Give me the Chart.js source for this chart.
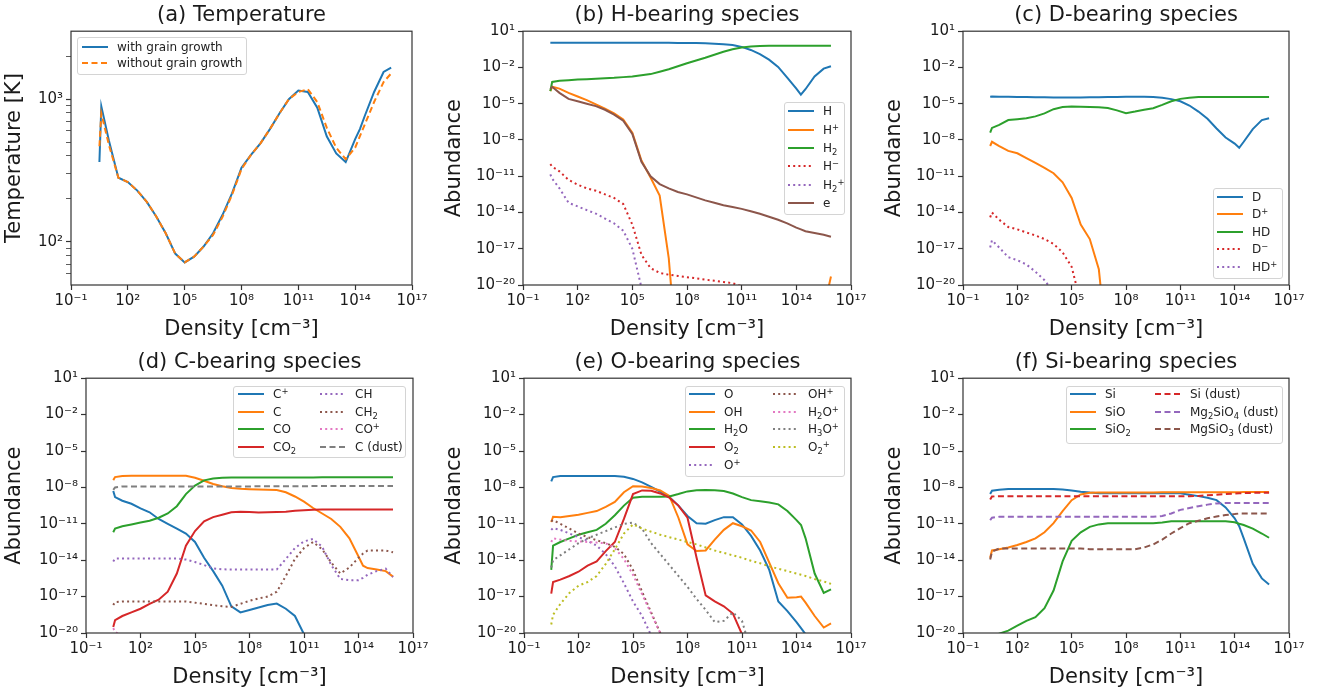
<!DOCTYPE html>
<html>
<head>
<meta charset="utf-8">
<script src="https://cdn.jsdelivr.net/npm/chart.js@4.4.1/dist/chart.umd.min.js"></script>
<style>
  body { margin: 0; background: #fff; font-family: 'DejaVu Sans', sans-serif; }
  #page { position: relative; width: 1324px; height: 695px; overflow: hidden; }
  canvas { position: absolute; }
  .legend { position: absolute; border: 1px solid #d4d4d4; border-radius: 3px; background: rgba(255,255,255,0.85); box-sizing: border-box; }
  .entry { position: absolute; display: flex; align-items: center; font-size: 12px; color: #222; white-space: nowrap; }
  .entry svg { display: block; margin-right: 9px; }
  sup { font-size: 70%; vertical-align: 0.5em; line-height: 0; }
  sub { font-size: 70%; vertical-align: -0.3em; line-height: 0; }
</style>
</head>
<body>
<div id="page">
  <canvas id="panelA" width="441" height="345" style="left:0;top:0"></canvas>
  <canvas id="panelB" width="441" height="345" style="left:441px;top:0"></canvas>
  <canvas id="panelC" width="442" height="345" style="left:882px;top:0"></canvas>
  <canvas id="panelD" width="441" height="355" style="left:0;top:340px"></canvas>
  <canvas id="panelE" width="441" height="355" style="left:441px;top:340px"></canvas>
  <canvas id="panelF" width="442" height="355" style="left:882px;top:340px"></canvas>
</div>
<script>
// density grid, log10 of n [cm^-3]
const logDensity = [0.5, 0.6, 1, 1.5, 2, 2.5, 3, 3.5, 4, 4.5,
                    5, 5.5, 6, 6.5, 7, 7.5, 8, 8.5, 9, 9.5,
                    10, 10.5, 11, 11.5, 12, 12.5, 13, 13.5, 14, 14.25,
                    14.5, 15, 15.5, 15.9];

const xTickValues = [1e-1, 1e2, 1e5, 1e8, 1e11, 1e14, 1e17];
const xTickLabels = ['10⁻¹', '10²', '10⁵', '10⁸', '10¹¹', '10¹⁴', '10¹⁷'];
const yTickValues = [1e-20, 1e-17, 1e-14, 1e-11, 1e-8, 1e-5, 1e-2, 1e1];
const yTickLabels = ['10⁻²⁰', '10⁻¹⁷', '10⁻¹⁴', '10⁻¹¹', '10⁻⁸', '10⁻⁵', '10⁻²', '10¹'];
const tempTickValues = [60, 70, 80, 90, 100, 200, 300, 400, 500, 600, 700, 800, 900, 1000, 2000];
const tempTickLabels = ['', '', '', '', '10²', '', '', '', '', '', '', '', '', '10³', ''];

// (a) temperature [K]
const tempWith = [363, 891, 513, 282, 263, 229, 191, 151, 115, 83,
                  72, 79, 93, 115, 155, 219, 331, 407, 490, 617,
                  794, 1000, 1148, 1122, 871, 550, 417, 363, 525, 617,
                  759, 1122, 1549, 1660];
const tempWithout = [468, 794, 479, 282, 263, 229, 191, 151, 115, 83,
                     72, 79, 93, 112, 150, 214, 324, 407, 490, 617,
                     794, 1000, 1122, 1175, 955, 631, 457, 380, 457, 550,
                     661, 955, 1318, 1514];

// (b) H-bearing species, log10 abundance
const logH = [0.05, 0.05, 0.05, 0.05, 0.05, 0.05, 0.05, 0.05, 0.05, 0.05,
              0.05, 0.05, 0.05, 0.04, 0.04, 0.03, 0.03, 0.02, 0, -0.03,
              -0.08, -0.15, -0.3, -0.55, -0.9, -1.35, -1.95, -2.85, -3.75, -4.25,
              -3.8, -2.75, -2.1, -1.9];
const logHplus = [-3.96, -3.6, -3.75, -4.1, -4.4, -4.7, -5.05, -5.4, -5.8, -6.3,
                  -7.4, -9.7, -11.1, -12.6, -17.8, -27, null, null, null, null,
                  null, null, null, null, null, null, null, null, null, null,
                  null, null, -22, -19.3];
const logH2 = [-3.96, -3.2, -3.1, -3.05, -3.0, -2.97, -2.93, -2.9, -2.86, -2.8,
               -2.75, -2.65, -2.55, -2.35, -2.15, -1.9, -1.65, -1.42, -1.2, -0.95,
               -0.7, -0.5, -0.35, -0.27, -0.23, -0.21, -0.21, -0.21, -0.21, -0.21,
               -0.21, -0.21, -0.21, -0.21];
const logHminus = [-10.0, -10.2, -10.6, -11.3, -11.7, -12.0, -12.2, -12.5, -12.8, -13.3,
                   -15.0, -17.5, -18.6, -19.0, -19.15, -19.25, -19.35, -19.45, -19.55, -19.65,
                   -19.75, -19.85, -20.1, -21];
const logH2plus = [-10.85, -11.2, -12.0, -13.2, -13.5, -13.8, -14.1, -14.5, -14.9, -15.5,
                   -17.0, -20.2, -23];
const logElec = [-3.77, -3.6, -4.1, -4.6, -4.8, -5.0, -5.2, -5.5, -5.9, -6.4,
                 -7.5, -9.8, -11.0, -11.65, -12.0, -12.3, -12.5, -12.75, -13.0, -13.2,
                 -13.4, -13.55, -13.7, -13.9, -14.1, -14.35, -14.6, -14.9, -15.25, -15.4,
                 -15.55, -15.7, -15.85, -16.0];

// (c) D-bearing species
const logD = [-4.42, -4.4, -4.42, -4.43, -4.44, -4.45, -4.46, -4.47, -4.48, -4.48,
              -4.48, -4.48, -4.47, -4.46, -4.45, -4.44, -4.43, -4.43, -4.43, -4.45,
              -4.5, -4.62, -4.8, -5.15, -5.65, -6.25, -7.05, -7.8, -8.3, -8.65,
              -8.15, -7.1, -6.35, -6.2];
const logDplus = [-8.5, -8.15, -8.5, -8.9, -9.1, -9.5, -9.9, -10.3, -10.75, -11.5,
                  -12.8, -15.0, -16.2, -18.7, -26];
const logHD = [-7.4, -7.0, -6.75, -6.35, -6.28, -6.2, -6.05, -5.8, -5.45, -5.28,
               -5.24, -5.25, -5.28, -5.3, -5.35, -5.55, -5.78, -5.65, -5.5, -5.38,
               -5.1, -4.8, -4.6, -4.5, -4.44, -4.44, -4.44, -4.44, -4.44, -4.44,
               -4.44, -4.44, -4.44, -4.44];
const logDminus = [-14.4, -14.0, -14.6, -15.2, -15.4, -15.65, -15.9, -16.2, -16.6, -17.3,
                   -18.5, -21.5];
const logHDplus = [-16.9, -16.3, -16.9, -17.7, -17.95, -18.3, -18.9, -19.6, -20.6];

// (d) C-bearing species
const logCplus = [-8.3, -8.8, -9.1, -9.35, -9.73, -10.05, -10.6, -11.0, -11.4, -11.8,
                  -12.5, -13.8, -14.9, -16.1, -17.8, -18.3, -18.1, -17.9, -17.7, -17.58,
                  -18.0, -18.6, -20.1, -23];
const logC = [-7.4, -7.15, -7.07, -7.05, -7.05, -7.05, -7.05, -7.05, -7.05, -7.05,
              -7.2, -7.45, -7.72, -7.9, -8.05, -8.12, -8.15, -8.18, -8.2, -8.22,
              -8.4, -8.75, -9.18, -9.7, -10.15, -10.6, -11.25, -12.2, -13.7, -14.45,
              -14.65, -14.77, -14.9, -15.35];
const logCO = [-11.7, -11.4, -11.2, -11.05, -10.9, -10.75, -10.5, -10.15, -9.55, -8.55,
               -7.85, -7.42, -7.27, -7.21, -7.18, -7.18, -7.18, -7.18, -7.18, -7.18,
               -7.18, -7.18, -7.18, -7.18, -7.17, -7.17, -7.17, -7.17, -7.16, -7.16,
               -7.16, -7.16, -7.16, -7.16];
const logCO2 = [-19.5, -18.95, -18.6, -18.3, -18.0, -17.6, -17.25, -16.6, -15.1, -12.8,
                -11.6, -10.8, -10.45, -10.25, -10.05, -10.0, -10.03, -10.07, -10.05, -10.02,
                -10.0, -9.93, -9.88, -9.85, -9.82, -9.82, -9.82, -9.82, -9.82, -9.82,
                -9.82, -9.82, -9.82, -9.82];
const logCH = [-14.1, -13.86, -13.86, -13.86, -13.86, -13.86, -13.86, -13.86, -13.86, -13.95,
               -14.15, -14.4, -14.68, -14.75, -14.77, -14.77, -14.77, -14.77, -14.77, -14.77,
               -13.9, -13.0, -12.45, -12.25, -12.9, -14.4, -15.55, -15.65, -15.65, -15.45,
               -15.2, -14.9, -14.7, -15.4];
const logCH2 = [-17.7, -17.45, -17.4, -17.4, -17.4, -17.4, -17.4, -17.4, -17.4, -17.4,
                -17.5, -17.6, -17.7, -17.8, -17.85, -17.6, -17.35, -17.15, -17.0, -16.6,
                -15.3, -13.9, -13.0, -12.5, -13.1, -14.2, -15.1, -14.6, -13.8, -13.45,
                -13.2, -13.2, -13.2, -13.35];
const logCOplus = [-19.6, -19.9, -20.3, -21];
const logCdust = [-8.2, -8.0, -7.92, -7.92, -7.92, -7.92, -7.92, -7.92, -7.92, -7.92,
                  -7.92, -7.92, -7.92, -7.92, -7.92, -7.92, -7.92, -7.91, -7.91, -7.9,
                  -7.9, -7.9, -7.9, -7.89, -7.89, -7.89, -7.88, -7.88, -7.88, -7.88,
                  -7.88, -7.88, -7.88, -7.88];

// (e) O-bearing species
const logO = [-7.5, -7.15, -7.06, -7.06, -7.06, -7.06, -7.06, -7.06, -7.06, -7.12,
              -7.3, -7.58, -7.95, -8.35, -8.8, -9.5, -10.35, -10.95, -11.0, -10.7,
              -10.45, -10.45, -11.05, -12.0, -13.2, -14.8, -17.4, -18.2, -19.1, -19.6,
              -20.1, -21.5];
const logOH = [-10.85, -10.42, -10.45, -10.35, -10.25, -10.1, -9.95, -9.6, -9.2, -8.4,
               -7.9, -7.93, -8.05, -8.25, -8.7, -10.5, -12.7, -13.25, -13.2, -12.3,
               -11.5, -10.95, -11.2, -11.55, -12.5, -14.2, -15.9, -17.1, -17.05, -17.0,
               -17.5, -18.6, -19.55, -19.2];
const logH2O = [-14.8, -12.8, -12.5, -12.2, -11.9, -11.7, -11.5, -11.0, -10.3, -9.5,
                -8.85, -8.77, -8.77, -8.77, -8.75, -8.55, -8.33, -8.24, -8.22, -8.24,
                -8.3, -8.5, -8.8, -9.05, -9.15, -9.25, -9.4, -9.95, -10.7, -11.1,
                -12.2, -15.1, -16.7, -16.4];
const logO2 = [-16.75, -15.8, -15.6, -15.3, -14.95, -14.45, -14.1, -13.25, -12.5, -10.6,
               -8.55, -8.25, -8.27, -8.5, -8.85, -9.5, -10.5, -13.8, -16.9, -17.4,
               -17.8, -18.4, -20.1, -23];
const logOplus = [-11.5, -11.35, -11.5, -11.8, -12.1, -12.4, -12.8, -13.5, -14.5, -15.9,
                  -17.4, -18.6, -20.2, -23];
const logOHplus = [-10.8, -10.7, -11.0, -11.4, -11.8, -12.1, -12.35, -12.6, -12.9, -13.5,
                   -14.8, -16.6, -18.3, -20.0, -23];
const logH2Oplus = [-12.5, -12.2, -12.3, -12.4, -12.45, -12.5, -12.55, -12.6, -13.0, -13.9,
                    -15.2, -16.8, -18.4, -20.0, -23];
const logH3Oplus = [-14.6, -14.0, -13.6, -13.1, -12.6, -12.2, -11.9, -11.6, -11.3, -11.0,
                    -10.9, -11.4, -12.6, -13.5, -14.4, -15.3, -16.2, -17.2, -18.1, -19.1,
                    -19.0, -18.3, -19.0, -21.5];
const logO2plus = [-19.3, -18.5, -17.6, -16.7, -16.1, -15.8, -15.3, -14.3, -13.1, -11.8,
                   -11.05, -11.4, -11.65, -11.9, -12.1, -12.3, -12.5, -12.7, -12.95, -13.2,
                   -13.4, -13.6, -13.8, -14.05, -14.25, -14.5, -14.7, -14.9, -15.1, -15.2,
                   -15.3, -15.55, -15.75, -15.95];

// (f) Si-bearing species
const logSi = [-8.55, -8.28, -8.2, -8.14, -8.14, -8.14, -8.14, -8.14, -8.14, -8.17,
               -8.25, -8.35, -8.43, -8.48, -8.48, -8.48, -8.48, -8.48, -8.48, -8.48,
               -8.48, -8.48, -8.48, -8.6, -8.72, -8.85, -9.05, -9.65, -10.55, -11.2,
               -12.2, -14.3, -15.5, -16.0];
const logSiO = [-13.8, -13.2, -13.1, -12.95, -12.75, -12.5, -12.2, -11.7, -10.95, -9.95,
                -9.05, -8.58, -8.45, -8.42, -8.42, -8.42, -8.42, -8.42, -8.42, -8.42,
                -8.41, -8.41, -8.41, -8.4, -8.4, -8.4, -8.4, -8.39, -8.39, -8.39,
                -8.38, -8.38, -8.38, -8.38];
const logSiO2 = [-20.6, -20.4, -20.05, -19.8, -19.4, -19.0, -18.7, -17.95, -16.5, -14.1,
                 -12.4, -11.7, -11.25, -11.05, -10.95, -10.95, -10.95, -10.95, -10.95, -10.95,
                 -10.9, -10.8, -10.8, -10.8, -10.8, -10.8, -10.8, -10.8, -10.88, -11.0,
                 -11.1, -11.4, -11.8, -12.15];
const logSiDust = [-9.0, -8.75, -8.72, -8.72, -8.72, -8.72, -8.72, -8.72, -8.72, -8.72,
                   -8.72, -8.72, -8.72, -8.72, -8.72, -8.72, -8.72, -8.72, -8.72, -8.72,
                   -8.72, -8.72, -8.72, -8.72, -8.7, -8.65, -8.6, -8.55, -8.5, -8.48,
                   -8.47, -8.45, -8.44, -8.44];
const logMg2SiO4 = [-10.7, -10.5, -10.42, -10.42, -10.42, -10.42, -10.42, -10.42, -10.42, -10.42,
                    -10.42, -10.42, -10.42, -10.42, -10.42, -10.42, -10.42, -10.42, -10.42, -10.42,
                    -10.35, -10.15, -9.85, -9.7, -9.55, -9.42, -9.32, -9.28, -9.28, -9.28,
                    -9.28, -9.28, -9.28, -9.28];
const logMgSiO3 = [-13.95, -13.3, -13.04, -13.04, -13.04, -13.04, -13.04, -13.04, -13.04, -13.04,
                   -13.04, -13.04, -13.1, -13.1, -13.1, -13.1, -13.1, -13.1, -12.95, -12.7,
                   -12.3, -11.8, -11.35, -10.95, -10.75, -10.55, -10.4, -10.28, -10.2, -10.15,
                   -10.15, -10.15, -10.15, -10.15];

const BLUE = '#1f77b4', ORANGE = '#ff7f0e', GREEN = '#2ca02c', RED = '#d62728', PURPLE = '#9467bd',
      BROWN = '#8c564b', PINK = '#e377c2', GRAY = '#7f7f7f', OLIVE = '#bcbd22';
const DASHES = { solid: [], dotted: [2, 3.2], dashed: [6, 3.5] };
const SVG_DASH = { solid: 'none', dotted: '2 3.2', dashed: '6 3.5' };

Chart.defaults.font.family = "'DejaVu Sans', sans-serif";
Chart.defaults.color = '#1a1a1a';

function abundance(label, html, logVals, color, style) {
    return {
        label, html, color, style,
        data: logVals.map((v, i) => ({ x: 10 ** logDensity[i], y: v === null ? null : 10 ** v }))
    };
}
function temperature(label, html, vals, color, style) {
    return {
        label, html, color, style,
        data: vals.map((v, i) => ({ x: 10 ** logDensity[i], y: v }))
    };
}

const framePlugin = {
    id: 'frame',
    afterDraw(chart) {
        const { ctx, chartArea: a } = chart;
        ctx.save();
        ctx.strokeStyle = '#333';
        ctx.lineWidth = 1.2;
        ctx.strokeRect(a.left, a.top, a.right - a.left, a.bottom - a.top);
        ctx.restore();
    }
};

function makePanel(id, p) {
    const datasets = p.series.map((s, i) => ({
        label: s.label,
        data: s.data,
        borderColor: s.color,
        borderWidth: 2,
        borderDash: DASHES[s.style],
        pointRadius: 0,
        tension: 0,
        fill: false,
        spanGaps: false,
        order: -i
    }));
    new Chart(document.getElementById(id), {
        type: 'line',
        data: { datasets },
        options: {
            responsive: false,
            animation: false,
            events: [],
            layout: { padding: { left: 0, right: p.padRight, top: 0, bottom: 0 } },
            plugins: {
                legend: { display: false },
                tooltip: { enabled: false },
                title: {
                    display: true, text: p.title, fullSize: false,
                    font: { size: 21, weight: 'normal' },
                    padding: { top: p.titleTop, bottom: p.titleBottom }
                }
            },
            scales: {
                x: {
                    type: 'logarithmic', min: 1e-1, max: 1e17, position: 'bottom',
                    afterBuildTicks: s => { s.ticks = xTickValues.map(v => ({ value: v })); },
                    afterFit: s => { s.height = p.xHeight; },
                    ticks: { autoSkip: false, maxRotation: 0, padding: 2, font: { size: 15 },
                             callback: (v, i) => xTickLabels[i] },
                    grid: { drawOnChartArea: false, tickLength: 5, tickColor: '#333', tickWidth: 1.2 },
                    border: { display: false },
                    title: { display: true, text: 'Density [cm⁻³]', font: { size: 21 },
                             padding: { top: 0, bottom: p.xTitlePad } }
                },
                y: {
                    type: 'logarithmic', min: p.yMin, max: p.yMax, position: 'left',
                    afterBuildTicks: s => { s.ticks = p.yTicks.map(v => ({ value: v })); },
                    afterFit: s => { s.width = p.yWidth; },
                    ticks: { autoSkip: false, padding: 3, font: { size: 15 },
                             callback: (v, i) => p.yLabels[i] },
                    grid: { drawOnChartArea: false, tickLength: 5, tickColor: '#333',
                            tickWidth: c => (p.yLabels[c.index] === '' ? 0.8 : 1.2) },
                    border: { display: false },
                    title: { display: true, text: p.yTitle, font: { size: 21 },
                             padding: { top: p.yTitlePad, bottom: 0 } }
                }
            }
        },
        plugins: [framePlugin]
    });
    makeLegend(p.legend, p.series);
}

function makeLegend(lg, series) {
    const page = document.getElementById('page');
    const box = document.createElement('div');
    box.className = 'legend';
    Object.assign(box.style, { left: lg.left + 'px', top: lg.top + 'px', width: lg.width + 'px', height: lg.height + 'px' });
    page.appendChild(box);
    const nrows = Math.ceil(series.length / lg.cols.length);
    series.forEach((s, i) => {
        const col = Math.floor(i / nrows), row = i % nrows;
        const e = document.createElement('div');
        e.className = 'entry';
        Object.assign(e.style, {
            left: (lg.left + lg.cols[col]) + 'px',
            top: (lg.top + lg.padTop + row * lg.rowH) + 'px',
            height: lg.rowH + 'px'
        });
        e.innerHTML = `<svg width="26" height="4"><line x1="0" y1="2" x2="26" y2="2" stroke="${s.color}" stroke-width="2" stroke-dasharray="${SVG_DASH[s.style]}"/></svg><span>${s.html}</span>`;
        page.appendChild(e);
    });
}

makePanel('panelA', {
    title: '(a) Temperature', titleTop: 3, titleBottom: 3,
    yTitle: 'Temperature [K]', yTitlePad: 2.4, yWidth: 71, padRight: 29, xHeight: 60, xTitlePad: 2.4,
    yMin: 50, yMax: 2990, yTicks: tempTickValues, yLabels: tempTickLabels,
    series: [
        temperature('with grain growth', 'with grain growth', tempWith, BLUE, 'solid'),
        temperature('without grain growth', 'without grain growth', tempWithout, ORANGE, 'dashed')
    ],
    legend: { left: 77, top: 37, width: 170, height: 38, padTop: 2, rowH: 16, cols: [5] }
});

makePanel('panelB', {
    title: '(b) H-bearing species', titleTop: 3, titleBottom: 3,
    yTitle: 'Abundance', yTitlePad: 0.7, yWidth: 82, padRight: 31, xHeight: 60, xTitlePad: 2.4,
    yMin: 1e-20, yMax: 1e1, yTicks: yTickValues, yLabels: yTickLabels,
    series: [
        abundance('H', 'H', logH, BLUE, 'solid'),
        abundance('H+', 'H<sup>+</sup>', logHplus, ORANGE, 'solid'),
        abundance('H2', 'H<sub>2</sub>', logH2, GREEN, 'solid'),
        abundance('H-', 'H<sup>−</sup>', logHminus, RED, 'dotted'),
        abundance('H2+', 'H<sub>2</sub><sup>+</sup>', logH2plus, PURPLE, 'dotted'),
        abundance('e', 'e', logElec, BROWN, 'solid')
    ],
    legend: { left: 784, top: 102, width: 61, height: 113, padTop: 0, rowH: 18.4, cols: [4] }
});

makePanel('panelC', {
    title: '(c) D-bearing species', titleTop: 3, titleBottom: 3,
    yTitle: 'Abundance', yTitlePad: 0.4, yWidth: 81, padRight: 35, xHeight: 60, xTitlePad: 2.4,
    yMin: 1e-20, yMax: 1e1, yTicks: yTickValues, yLabels: yTickLabels,
    series: [
        abundance('D', 'D', logD, BLUE, 'solid'),
        abundance('D+', 'D<sup>+</sup>', logDplus, ORANGE, 'solid'),
        abundance('HD', 'HD', logHD, GREEN, 'solid'),
        abundance('D-', 'D<sup>−</sup>', logDminus, RED, 'dotted'),
        abundance('HD+', 'HD<sup>+</sup>', logHDplus, PURPLE, 'dotted')
    ],
    legend: { left: 1213, top: 188, width: 70, height: 91, padTop: 0, rowH: 17.5, cols: [4] }
});

makePanel('panelD', {
    title: '(d) C-bearing species', titleTop: 9.5, titleBottom: 3.5,
    yTitle: 'Abundance', yTitlePad: 2.4, yWidth: 86, padRight: 28, xHeight: 62, xTitlePad: 4.4,
    yMin: 1e-20, yMax: 1e1, yTicks: yTickValues, yLabels: yTickLabels,
    series: [
        abundance('C+', 'C<sup>+</sup>', logCplus, BLUE, 'solid'),
        abundance('C', 'C', logC, ORANGE, 'solid'),
        abundance('CO', 'CO', logCO, GREEN, 'solid'),
        abundance('CO2', 'CO<sub>2</sub>', logCO2, RED, 'solid'),
        abundance('CH', 'CH', logCH, PURPLE, 'dotted'),
        abundance('CH2', 'CH<sub>2</sub>', logCH2, BROWN, 'dotted'),
        abundance('CO+', 'CO<sup>+</sup>', logCOplus, PINK, 'dotted'),
        abundance('C (dust)', 'C (dust)', logCdust, GRAY, 'dashed')
    ],
    legend: { left: 233, top: 386, width: 173, height: 72, padTop: -1, rowH: 17.8, cols: [5, 87] }
});

makePanel('panelE', {
    title: '(e) O-bearing species', titleTop: 9.5, titleBottom: 3.5,
    yTitle: 'Abundance', yTitlePad: 1.4, yWidth: 83, padRight: 31, xHeight: 62, xTitlePad: 4.4,
    yMin: 1e-20, yMax: 1e1, yTicks: yTickValues, yLabels: yTickLabels,
    series: [
        abundance('O', 'O', logO, BLUE, 'solid'),
        abundance('OH', 'OH', logOH, ORANGE, 'solid'),
        abundance('H2O', 'H<sub>2</sub>O', logH2O, GREEN, 'solid'),
        abundance('O2', 'O<sub>2</sub>', logO2, RED, 'solid'),
        abundance('O+', 'O<sup>+</sup>', logOplus, PURPLE, 'dotted'),
        abundance('OH+', 'OH<sup>+</sup>', logOHplus, BROWN, 'dotted'),
        abundance('H2O+', 'H<sub>2</sub>O<sup>+</sup>', logH2Oplus, PINK, 'dotted'),
        abundance('H3O+', 'H<sub>3</sub>O<sup>+</sup>', logH3Oplus, GRAY, 'dotted'),
        abundance('O2+', 'O<sub>2</sub><sup>+</sup>', logO2plus, OLIVE, 'dotted')
    ],
    legend: { left: 685, top: 386, width: 160, height: 91, padTop: -1, rowH: 17.75, cols: [4, 88] }
});

makePanel('panelF', {
    title: '(f) Si-bearing species', titleTop: 9.5, titleBottom: 3.5,
    yTitle: 'Abundance', yTitlePad: 0.4, yWidth: 81, padRight: 35, xHeight: 62, xTitlePad: 4.4,
    yMin: 1e-20, yMax: 1e1, yTicks: yTickValues, yLabels: yTickLabels,
    series: [
        abundance('Si', 'Si', logSi, BLUE, 'solid'),
        abundance('SiO', 'SiO', logSiO, ORANGE, 'solid'),
        abundance('SiO2', 'SiO<sub>2</sub>', logSiO2, GREEN, 'solid'),
        abundance('Si (dust)', 'Si (dust)', logSiDust, RED, 'dashed'),
        abundance('Mg2SiO4 (dust)', 'Mg<sub>2</sub>SiO<sub>4</sub> (dust)', logMg2SiO4, PURPLE, 'dashed'),
        abundance('MgSiO3 (dust)', 'MgSiO<sub>3</sub> (dust)', logMgSiO3, BROWN, 'dashed')
    ],
    legend: { left: 1066, top: 386, width: 217, height: 58, padTop: -1, rowH: 17.8, cols: [4, 89] }
});
</script>
</body>
</html>
